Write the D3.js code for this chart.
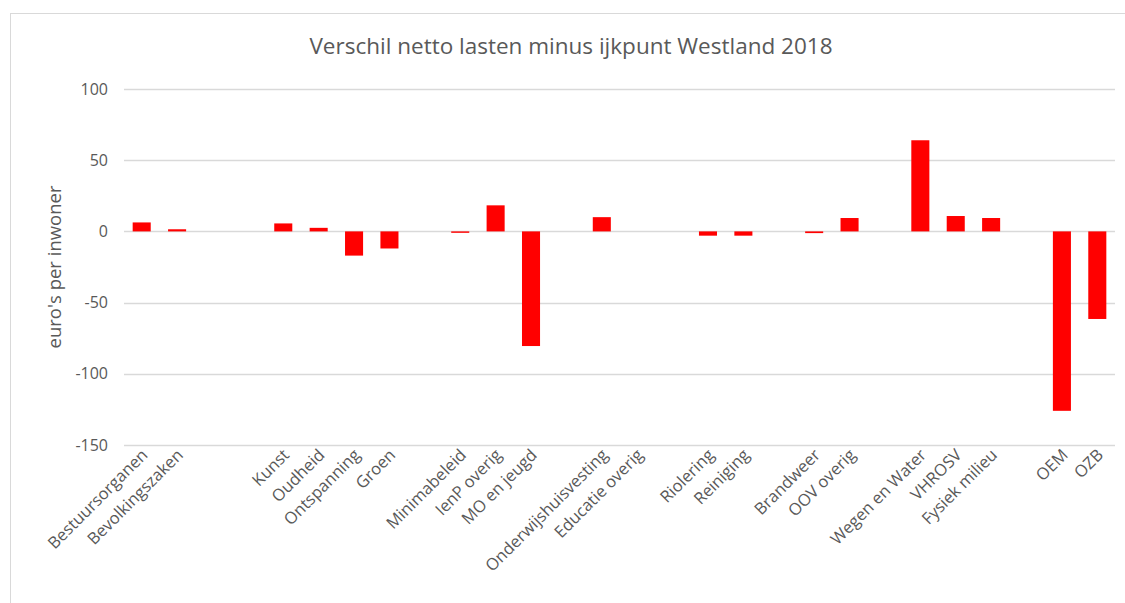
<!DOCTYPE html>
<html>
<head>
<meta charset="utf-8">
<script src="https://cdn.jsdelivr.net/npm/d3@7"></script>
<style>
  body { margin: 0; background: #fff; }
  text { font-family: "Open Sans", sans-serif; fill: #595959; }
</style>
</head>
<body>
<div id="chart"></div>
<script>
const W = 1125, H = 603;

// categories (empty strings are the gaps between groups)
const categories = [
  'Bestuursorganen', 'Bevolkingszaken', '', '',
  'Kunst', 'Oudheid', 'Ontspanning', 'Groen', '',
  'Minimabeleid', 'IenP overig', 'MO en jeugd', '',
  'Onderwijshuisvesting', 'Educatie overig', '',
  'Riolering', 'Reiniging', '',
  'Brandweer', 'OOV overig', '',
  'Wegen en Water', 'VHROSV', 'Fysiek milieu', '',
  'OEM', 'OZB'
];
// euro's per inwoner (null = no bar)
const values = [
  6.3, 1.5, null, null,
  5.6, 2.5, -17, -12, null,
  -1, 18.3, -80.5, null,
  10, 0, null,
  -3, -3, null,
  -1.2, 9.4, null,
  64, 10.8, 9.4, null,
  -126, -61.5
];
const yTicks = [100, 50, 0, -50, -100, -150];

const svg = d3.select('#chart').append('svg')
  .attr('width', W)
  .attr('height', H);

// chart frame
svg.append('rect')
  .attr('x', 10.5).attr('y', 13.5)
  .attr('width', W + 20).attr('height', H + 20)
  .attr('fill', '#fff')
  .attr('stroke', '#d9d9d9');

const margin = { left: 124, right: 10, top: 89, bottom: 158 };

const x = d3.scaleBand()
  .domain(d3.range(categories.length))
  .range([margin.left, W - margin.right])
  .paddingInner(0.49)
  .paddingOuter(0.245);

const y = d3.scaleLinear()
  .domain([-150, 100])
  .range([445, 89]);

// gridlines
svg.append('g')
  .selectAll('line')
  .data(yTicks)
  .join('line')
    .attr('x1', margin.left).attr('x2', W - margin.right)
    .attr('y1', d => Math.round(y(d)) + 0.5)
    .attr('y2', d => Math.round(y(d)) + 0.5)
    .attr('stroke', '#d9d9d9')
    .attr('stroke-width', 1.5);

// y axis labels (plain hyphen for negatives, as in the original)
const yAxis = d3.axisLeft(y)
  .tickValues(yTicks)
  .tickFormat(d => String(d))
  .tickSize(0)
  .tickPadding(16);
svg.append('g')
  .attr('transform', `translate(${margin.left},0)`)
  .call(yAxis)
  .call(g => g.select('.domain').remove())
  .call(g => g.selectAll('text')
    .attr('font-size', 16)
    .attr('font-family', '"Open Sans", sans-serif')
    .attr('fill', '#595959'));

// bars
const idx = d3.range(categories.length).filter(i => values[i] !== null && values[i] !== 0);
svg.append('g')
  .selectAll('rect')
  .data(idx)
  .join('rect')
    .attr('x', i => x(i))
    .attr('width', x.bandwidth())
    .attr('y', i => y(Math.max(0, values[i])))
    .attr('height', i => Math.abs(y(values[i]) - y(0)))
    .attr('fill', '#ff0000');

// category labels
svg.append('g')
  .selectAll('text')
  .data(d3.range(categories.length).filter(i => categories[i] !== ''))
  .join('text')
    .attr('transform', i => `translate(${x(i) + x.bandwidth() / 2 + 7},456) rotate(-45)`)
    .attr('text-anchor', 'end')
    .attr('font-size', 16.5)
    .text(i => categories[i]);

// y axis title
svg.append('text')
  .attr('transform', 'translate(61,267) rotate(-90)')
  .attr('text-anchor', 'middle')
  .attr('font-size', 18.5)
  .text("euro's per inwoner");

// title
svg.append('text')
  .attr('x', 571).attr('y', 54)
  .attr('text-anchor', 'middle')
  .attr('font-size', 22.5)
  .text('Verschil netto lasten minus ijkpunt Westland 2018');
</script>
</body>
</html>
